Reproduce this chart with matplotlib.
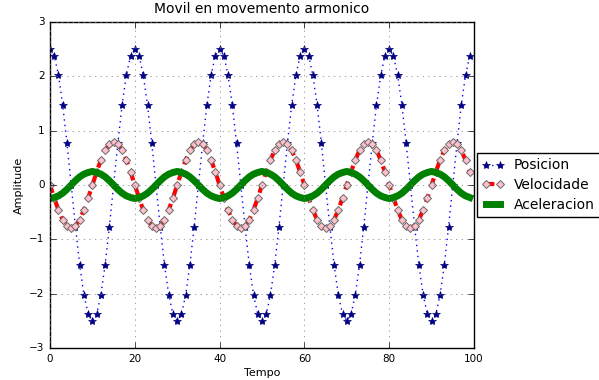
import matplotlib
matplotlib.use('Agg')
import matplotlib.pyplot as plt

plt.style.use('classic')

# tempo 0..99
tempo = list(range(100))

posicion = [2.50, 2.38, 2.02, 1.47, 0.77, 0.00, -0.77, -1.47, -2.02, -2.38, -2.50, -2.38, -2.02, -1.47, -0.77, 0.00, 0.77, 1.47, 2.02, 2.38,
            2.50, 2.38, 2.02, 1.47, 0.77, 0.00, -0.77, -1.47, -2.02, -2.38, -2.50, -2.38, -2.02, -1.47, -0.77, 0.00, 0.77, 1.47, 2.02, 2.38,
            2.50, 2.38, 2.02, 1.47, 0.77, 0.00, -0.77, -1.47, -2.02, -2.38, -2.50, -2.38, -2.02, -1.47, -0.77, 0.00, 0.77, 1.47, 2.02, 2.38,
            2.50, 2.38, 2.02, 1.47, 0.77, 0.00, -0.77, -1.47, -2.02, -2.38, -2.50, -2.38, -2.02, -1.47, -0.77, 0.00, 0.77, 1.47, 2.02, 2.38,
            2.50, 2.38, 2.02, 1.47, 0.77, 0.00, -0.77, -1.47, -2.02, -2.38, -2.50, -2.38, -2.02, -1.47, -0.77, 0.00, 0.77, 1.47, 2.02, 2.38]

velocidade = [0.00, -0.24, -0.46, -0.64, -0.75, -0.79, -0.75, -0.64, -0.46, -0.24, 0.00, 0.24, 0.46, 0.64, 0.75, 0.79, 0.75, 0.64, 0.46, 0.24,
              0.00, -0.24, -0.46, -0.64, -0.75, -0.79, -0.75, -0.64, -0.46, -0.24, 0.00, 0.24, 0.46, 0.64, 0.75, 0.79, 0.75, 0.64, 0.46, 0.24,
              0.00, -0.24, -0.46, -0.64, -0.75, -0.79, -0.75, -0.64, -0.46, -0.24, 0.00, 0.24, 0.46, 0.64, 0.75, 0.79, 0.75, 0.64, 0.46, 0.24,
              0.00, -0.24, -0.46, -0.64, -0.75, -0.79, -0.75, -0.64, -0.46, -0.24, 0.00, 0.24, 0.46, 0.64, 0.75, 0.79, 0.75, 0.64, 0.46, 0.24,
              0.00, -0.24, -0.46, -0.64, -0.75, -0.79, -0.75, -0.64, -0.46, -0.24, 0.00, 0.24, 0.46, 0.64, 0.75, 0.79, 0.75, 0.64, 0.46, 0.24]

aceleracion = [-0.25, -0.23, -0.20, -0.15, -0.08, 0.00, 0.08, 0.15, 0.20, 0.23, 0.25, 0.23, 0.20, 0.15, 0.08, 0.00, -0.08, -0.15, -0.20, -0.23,
               -0.25, -0.23, -0.20, -0.15, -0.08, 0.00, 0.08, 0.15, 0.20, 0.23, 0.25, 0.23, 0.20, 0.15, 0.08, 0.00, -0.08, -0.15, -0.20, -0.23,
               -0.25, -0.23, -0.20, -0.15, -0.08, 0.00, 0.08, 0.15, 0.20, 0.23, 0.25, 0.23, 0.20, 0.15, 0.08, 0.00, -0.08, -0.15, -0.20, -0.23,
               -0.25, -0.23, -0.20, -0.15, -0.08, 0.00, 0.08, 0.15, 0.20, 0.23, 0.25, 0.23, 0.20, 0.15, 0.08, 0.00, -0.08, -0.15, -0.20, -0.23,
               -0.25, -0.23, -0.20, -0.15, -0.08, 0.00, 0.08, 0.15, 0.20, 0.23, 0.25, 0.23, 0.20, 0.15, 0.08, 0.00, -0.08, -0.15, -0.20, -0.23]

fig = plt.figure(figsize=(5.99, 3.8), dpi=100, facecolor='white')
ax = fig.add_axes([50/599, 32/380, 424/599, 326/380])

ax.plot(tempo, posicion, color='blue', linestyle=':', marker='*', markersize=6,
        markerfacecolor='navy', markeredgecolor='navy', linewidth=1, label='Posicion')
ax.plot(tempo, velocidade, color='red', linestyle='--', linewidth=3, marker='D', markersize=4,
        markerfacecolor='pink', markeredgecolor='dimgray', markeredgewidth=0.7, label='Velocidade')
ax.plot(tempo, aceleracion, color='green', linestyle='-', linewidth=5, label='Aceleracion')

ax.set_xlim(0, 100)
ax.set_ylim(-3, 3)
ax.grid(True, color='gray', linestyle=':')
ax.set_title('Movil en movemento armonico', fontsize=10, y=1.005)
ax.set_xlabel('Tempo', fontsize=8, labelpad=3)
ax.set_ylabel('Amplitude', fontsize=8, labelpad=4)
ax.tick_params(labelsize=7.5)

ax.legend(loc='center left', bbox_to_anchor=(1.006, 0.5), fontsize=10,
          numpoints=2, handlelength=1.6, handletextpad=0.7, labelspacing=0.4,
          borderaxespad=0)

fig.savefig('out.png', dpi=100, facecolor='white')
